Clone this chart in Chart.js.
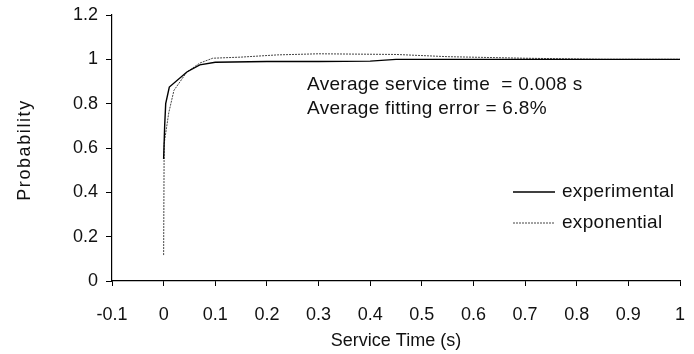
<!DOCTYPE html>
<html>
<head>
<meta charset="utf-8">
<script src="https://cdn.jsdelivr.net/npm/chart.js@4/dist/chart.umd.min.js"></script>
<style>
  html, body { margin: 0; padding: 0; background: #fff; }
  #wrap { width: 694px; height: 354px; }
</style>
</head>
<body>
<div id="wrap"><canvas id="cdf"></canvas></div>
<script>
// measured service time distribution vs. fitted exponential
const expTime = [0, 0.002, 0.004, 0.011, 0.045, 0.07, 0.1, 0.2, 0.3, 0.4, 0.45, 0.6, 0.8, 1.0];
const expProb = [0.55, 0.7, 0.8, 0.875, 0.943, 0.975, 0.987, 0.99, 0.99, 0.992, 1.0, 1.0, 1.0, 1.0];

const fitTime = [0, 0.001, 0.01, 0.02, 0.045, 0.07, 0.095, 0.15, 0.22, 0.3, 0.45, 0.55, 0.7, 0.85, 1.0];
const fitProb = [0.117, 0.62, 0.76, 0.86, 0.943, 0.983, 1.005, 1.01, 1.02, 1.025, 1.022, 1.012, 1.005, 1.0, 1.0];

const seriesNames = ['experimental', 'exponential'];
const noteLines = ['Average service time  = 0.008 s', 'Average fitting error = 6.8%'];
const yTitle = 'Probability';

const FONT = '"Liberation Sans", Arial, sans-serif';

function toPoints(xs, ys) {
    return xs.map((x, i) => ({ x: x, y: ys[i] }));
}

// text box, legend and the rotated y title
const notesPlugin = {
    id: 'notes',
    afterDatasetsDraw(chart) {
        const ctx = chart.ctx;
        ctx.save();
        ctx.fillStyle = '#111';
        ctx.font = '19px ' + FONT;
        ctx.textBaseline = 'middle';
        ctx.letterSpacing = '0.3px';
        ctx.fillText(noteLines[0], 307, 85);
        ctx.fillText(noteLines[1], 307, 109);

        chart.data.datasets.forEach((ds, i) => {
            const y = 192 + i * 31;
            ctx.beginPath();
            ctx.strokeStyle = ds.borderColor;
            ctx.lineWidth = ds.borderWidth;
            ctx.setLineDash(ds.borderDash || []);
            ctx.moveTo(513, y);
            ctx.lineTo(555, y);
            ctx.stroke();
            ctx.setLineDash([]);
            ctx.fillText(seriesNames[i], 562, y);
        });

        ctx.font = '18px ' + FONT;
        ctx.letterSpacing = '1.6px';
        ctx.translate(25, 150);
        ctx.rotate(-Math.PI / 2);
        ctx.textAlign = 'center';
        ctx.fillText(yTitle, 0, 0);
        ctx.restore();
    }
};

const ctx = document.getElementById('cdf').getContext('2d');
new Chart(ctx, {
    type: 'scatter',
    data: {
        datasets: [
            {
                label: seriesNames[0],
                data: toPoints(expTime, expProb),
                showLine: true,
                borderColor: '#000',
                borderWidth: 1.4,
                pointRadius: 0,
                tension: 0
            },
            {
                label: seriesNames[1],
                data: toPoints(fitTime, fitProb),
                showLine: true,
                borderColor: '#444',
                borderWidth: 1,
                borderDash: [2, 1],
                pointRadius: 0,
                tension: 0
            }
        ]
    },
    options: {
        responsive: true,
        maintainAspectRatio: false,
        animation: false,
        layout: { padding: { top: 15, right: 14, left: 0, bottom: 0 } },
        plugins: {
            legend: { display: false },
            tooltip: { enabled: false }
        },
        scales: {
            x: {
                type: 'linear',
                min: -0.1,
                max: 1,
                afterFit: s => {
                    s.height = 73;
                    s.paddingLeft = 0;
                    s.paddingRight = 0;
                },
                ticks: {
                    stepSize: 0.1,
                    color: '#111',
                    font: { family: FONT, size: 18 },
                    padding: 18,
                    maxRotation: 0,
                    callback: v => Math.round(v * 10) / 10
                },
                grid: { drawOnChartArea: false, drawTicks: true, tickLength: 5, color: '#000' },
                border: { color: '#000', width: 1.2 },
                title: {
                    display: true,
                    text: 'Service Time (s)',
                    color: '#111',
                    font: { family: FONT, size: 18 },
                    padding: { top: 0, bottom: 2 }
                }
            },
            y: {
                min: 0,
                max: 1.2,
                afterFit: s => {
                    s.width = 112;
                    s.paddingTop = 0;
                    s.paddingBottom = 0;
                },
                ticks: {
                    stepSize: 0.2,
                    color: '#111',
                    font: { family: FONT, size: 18 },
                    padding: 8,
                    callback: v => Math.round(v * 10) / 10
                },
                grid: { drawOnChartArea: false, drawTicks: true, tickLength: 6, color: '#000' },
                border: { color: '#000', width: 1.2 }
            }
        }
    },
    plugins: [notesPlugin]
});
</script>
</body>
</html>
